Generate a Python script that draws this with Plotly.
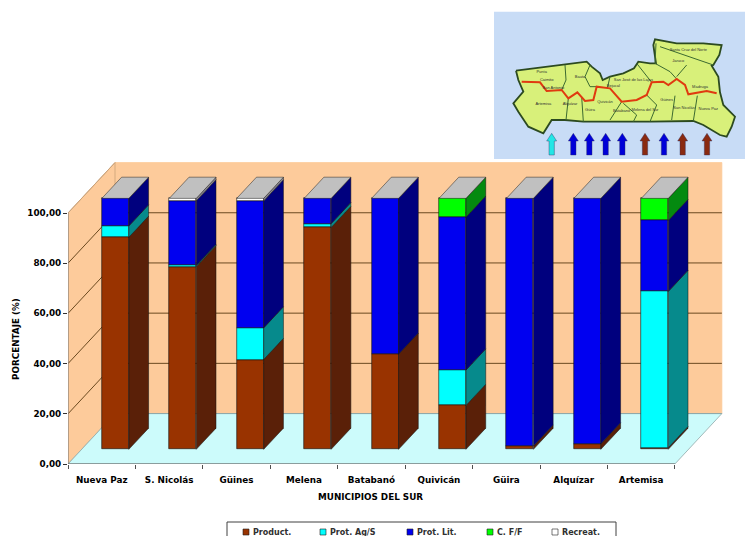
import plotly.graph_objects as go

# Land use per municipality, in percent of the total area
MUNICIPIOS = ["Nueva Paz", "S. Nicolás", "Güines", "Melena", "Batabanó",
              "Quivicán", "Güira", "Alquízar", "Artemisa"]
PRODUCT = [84.5, 72.8, 35.8, 88.4, 37.9, 17.5, 1.3, 2.2, 0.7]
PROT_AGS = [4.5, 0.5, 12.6, 1.5, 0, 14.1, 0, 0, 62.2]
PROT_LIT = [11.0, 25.7, 50.6, 10.1, 62.1, 60.9, 98.7, 97.8, 28.3]
C_FF = [0, 0, 0, 0, 0, 7.5, 0, 0, 8.8]
RECREAT = [0, 1.0, 1.0, 0, 0, 0, 0, 0, 0]
Y_TICKS = [0, 20, 40, 60, 80, 100]
Y_LABELS = ["0,00", "20,00", "40,00", "60,00", "80,00", "100,00"]

SERIES = [
    ("Product.", PRODUCT, "#993300", "#5a2008"),
    ("Prot. Ag/S", PROT_AGS, "#00ffff", "#068a8c"),
    ("Prot. Lit.", PROT_LIT, "#0000f0", "#00007e"),
    ("C. F/F", C_FF, "#00ff00", "#048a10"),
    ("Recreat.", RECREAT, "#ffffff", "#8a8a9a"),
]

# Oblique projection: a unit of depth shifts a point by these axis amounts
DEPTH_X = 0.697
DEPTH_Y = 20.1
BAR_FRONT = 0.29
BAR_BACK = 0.71
BAR_WIDTH = 0.40
FONT = "DejaVu Sans"

# Page geometry of the plot area, used to place items given in page pixels
PLOT_LEFT, PLOT_W, PLOT_H = 68, 677, 464


def page_x(px):
    return (px - PLOT_LEFT) / PLOT_W


def page_y(py):
    return (PLOT_H - py) / PLOT_H


def proj(x, v, d):
    return x + d * DEPTH_X, v + d * DEPTH_Y


def path(points):
    return "M " + " L ".join(f"{x:.4f} {y:.4f}" for x, y in points) + " Z"


n = len(MUNICIPIOS)
fig = go.Figure()
shapes = []


def add_plane(points, fill, edge):
    shapes.append(dict(type="path", path=path(points), xref="x", yref="y",
                       fillcolor=fill, line=dict(color=edge, width=0.8), layer="below"))


def add_rule(a, b, color, width=1):
    shapes.append(dict(type="line", xref="x", yref="y", x0=a[0], y0=a[1], x1=b[0], y1=b[1],
                       line=dict(color=color, width=width), layer="below"))


# Back wall, side wall and floor of the chart box
add_plane([proj(0, 0, 1), proj(n, 0, 1), proj(n, 100, 1), proj(0, 100, 1)], "#fdcb9b", "#fdcb9b")
add_plane([proj(0, 0, 0), proj(0, 0, 1), proj(0, 100, 1), proj(0, 100, 0)], "#fdcb9b", "#c9a27a")
add_plane([proj(0, 0, 0), proj(n, 0, 0), proj(n, 0, 1), proj(0, 0, 1)], "#ccfbfb", "#8fa8a8")
for t in Y_TICKS[1:-1]:
    add_rule(proj(0, t, 0), proj(0, t, 1), "#6b4a20")
    add_rule(proj(0, t, 1), proj(n, t, 1), "#6b4a20")
add_rule(proj(0, 100, 0), proj(0, 100, 1), "#c9a27a")
add_rule(proj(0, 0, 1), proj(n, 0, 1), "#8fa8a8")
add_rule((0, 0), (0, 100), "#808080")
add_rule((0, 0), (n, 0), "#606060")

# Front faces, stacked from an explicit running base
bottoms = [0.0] * n
bar_x = [proj(i + 0.5, 0, BAR_FRONT)[0] for i in range(n)]
base_0 = BAR_FRONT * DEPTH_Y
segments = []
for name, values, front, side in SERIES:
    fig.add_trace(go.Bar(
        x=bar_x, y=[v if v > 0 else None for v in values],
        base=[base_0 + b for b in bottoms], width=BAR_WIDTH, name=name, showlegend=False,
        marker=dict(color=front, line=dict(color="#101010", width=0.6)),
    ))
    segments.append((values, list(bottoms), side))
    bottoms = [b + v for b, v in zip(bottoms, values)]

# Side faces follow each stacked segment back into the box
for values, starts, side in segments:
    for i, (v, s) in enumerate(zip(values, starts)):
        if v <= 0:
            continue
        right = bar_x[i] + BAR_WIDTH / 2
        low, high = base_0 + s, base_0 + s + v
        d = BAR_BACK - BAR_FRONT
        pts = [(right, low), proj(right, low, d), proj(right, high, d), (right, high), (right, low)]
        fig.add_trace(go.Scatter(
            x=[p[0] for p in pts], y=[p[1] for p in pts], mode="lines", fill="toself",
            fillcolor=side, line=dict(color="#101010", width=0.5), showlegend=False,
            hoverinfo="skip", cliponaxis=False))

# Grey top caps
for i, total in enumerate(bottoms):
    left, right = bar_x[i] - BAR_WIDTH / 2, bar_x[i] + BAR_WIDTH / 2
    top = base_0 + total
    d = BAR_BACK - BAR_FRONT
    pts = [(left, top), (right, top), proj(right, top, d), proj(left, top, d), (left, top)]
    fig.add_trace(go.Scatter(
        x=[p[0] for p in pts], y=[p[1] for p in pts], mode="lines", fill="toself",
        fillcolor="#c0c0c0", line=dict(color="#202020", width=0.5), showlegend=False,
        hoverinfo="skip", cliponaxis=False))

# Locator map in its own small axes
MAP_BG_X = [12, 765, 765, 12, 12]
MAP_BG_Y = [20, 20, 462, 462, 20]
MAP_OUTLINE = [(78, 197), (130, 190), (180, 185), (230, 177), (290, 170), (305, 185), (330, 205),
               (338, 225), (360, 215), (400, 205), (432, 190), (445, 170), (480, 175), (498, 175),
               (490, 120), (495, 103), (560, 115), (640, 115), (695, 120), (688, 150), (670, 180),
               (665, 182), (685, 215), (690, 262), (700, 300), (735, 335), (725, 365), (710, 395),
               (690, 390), (640, 360), (610, 348), (480, 350), (360, 350), (280, 350), (225, 345),
               (185, 345), (160, 385), (115, 365), (85, 320), (70, 295), (100, 260), (85, 225),
               (78, 197)]
MAP_BORDERS = [
    [(225, 180), (228, 225), (215, 255)],
    [(300, 180), (285, 215), (300, 245), (320, 245)],
    [(235, 280), (228, 345)],
    [(275, 275), (280, 350)],
    [(360, 215), (352, 250)],
    [(395, 290), (360, 345)],
    [(400, 295), (440, 330), (430, 350)],
    [(470, 270), (500, 300), (480, 350)],
    [(440, 175), (485, 232)],
    [(498, 115), (495, 175), (540, 200), (560, 222)],
    [(510, 125), (580, 150), (670, 180)],
    [(590, 180), (560, 215)],
    [(555, 272), (545, 345)],
    [(622, 272), (610, 348)],
]
MAP_ROAD = [(95, 230), (150, 232), (170, 258), (215, 255), (235, 280), (262, 262), (285, 288),
            (310, 285), (320, 245), (360, 250), (395, 290), (440, 285), (470, 270), (485, 232),
            (520, 230), (535, 240), (560, 222), (585, 240), (595, 268), (650, 258), (680, 265)]
MAP_TOWNS = [("Santa Cruz del Norte", 595, 135), ("Jaruco", 565, 168), ("Madruga", 630, 245),
             ("Nueva Paz", 655, 312), ("San Nicolás", 582, 310), ("Güines", 530, 285),
             ("Melena del Sur", 465, 315), ("Batabanó", 395, 318), ("Quivicán", 345, 290),
             ("San José de las Lajas", 430, 225), ("Bejucal", 370, 243), ("Güira", 300, 315),
             ("Alquízar", 240, 298), ("San Antonio", 190, 250), ("Artemisa", 160, 297),
             ("Bauta", 270, 215), ("Caimito", 170, 225), ("Punta", 155, 200)]
ARROW_X = [185, 250, 298, 347, 397, 465, 522, 578, 651]
ARROW_COLORS = ["#22e6e6", "#0000d8", "#0000d8", "#0000d8", "#0000d8",
                "#8a2a10", "#0000d8", "#8a2a10", "#8a2a10"]


def map_trace(points, **kw):
    return go.Scatter(x=[p[0] for p in points], y=[p[1] for p in points], xaxis="x2", yaxis="y2",
                      showlegend=False, hoverinfo="skip", **kw)


fig.add_trace(go.Scatter(x=MAP_BG_X, y=MAP_BG_Y, xaxis="x2", yaxis="y2", mode="lines", fill="toself",
                         fillcolor="#c8dcf6", line=dict(width=0), showlegend=False, hoverinfo="skip"))
fig.add_trace(map_trace(MAP_OUTLINE, mode="lines", fill="toself", fillcolor="#d8f07a",
                        line=dict(color="#2c4a20", width=1.8)))
for border in MAP_BORDERS:
    fig.add_trace(map_trace(border, mode="lines", line=dict(color="#3c6a30", width=1)))
fig.add_trace(map_trace(MAP_ROAD, mode="lines", line=dict(color="#e03a10", width=2)))
fig.add_trace(go.Scatter(x=[t[1] for t in MAP_TOWNS], y=[t[2] for t in MAP_TOWNS], text=[t[0] for t in MAP_TOWNS],
                         xaxis="x2", yaxis="y2", mode="text", textfont=dict(size=4, color="#303030", family="Liberation Sans"),
                         showlegend=False, hoverinfo="skip"))
for ax, color in zip(ARROW_X, ARROW_COLORS):
    pts = [(ax - 8, 450), (ax + 8, 450), (ax + 8, 408), (ax + 15, 408), (ax, 385),
           (ax - 15, 408), (ax - 8, 408), (ax - 8, 450)]
    fig.add_trace(map_trace(pts, mode="lines", fill="toself", fillcolor=color,
                            line=dict(color="#303060", width=0.4)))

# Legend box along the bottom edge of the page
LEGEND_SWATCH_PX = [243, 320, 407, 487, 552]
LEGEND_Y_PX = 532
legend_shapes = [dict(type="rect", xref="paper", yref="paper", x0=page_x(227), x1=page_x(616),
                      y0=page_y(522), y1=page_y(542), fillcolor="#ffffff",
                      line=dict(color="#404040", width=1))]
legend_notes = []
for (name, _, front, _), sx in zip(SERIES, LEGEND_SWATCH_PX):
    legend_shapes.append(dict(type="rect", xref="paper", yref="paper", x0=page_x(sx), x1=page_x(sx + 6),
                              y0=page_y(LEGEND_Y_PX + 3), y1=page_y(LEGEND_Y_PX - 3), fillcolor=front,
                              line=dict(color="#202020", width=0.6)))
    legend_notes.append(dict(text=name, xref="paper", yref="paper", x=page_x(sx + 8), y=page_y(LEGEND_Y_PX),
                             xanchor="left", yanchor="middle", showarrow=False, xshift=0,
                             font=dict(family=FONT, size=8, color="#303030", weight="bold")))

label_font = dict(family=FONT, size=8.8, color="#000000", weight="bold")
fig.update_layout(
    width=745, height=536, barmode="overlay", bargap=0, showlegend=False,
    margin=dict(l=PLOT_LEFT, r=0, t=0, b=72, pad=0, autoexpand=False),
    paper_bgcolor="#ffffff", plot_bgcolor="rgba(0,0,0,0)",
    shapes=shapes + legend_shapes,
    xaxis=dict(range=[0, 10.04], domain=[0, 1], tickvals=[i + 0.5 for i in range(n)], ticktext=MUNICIPIOS,
               ticks="", ticklabelstandoff=9, showgrid=False, zeroline=False, showline=False, tickangle=0,
               tickfont=label_font,
               minor=dict(tickvals=list(range(n + 1)), ticks="outside", ticklen=4, tickcolor="#505050", showgrid=False)),
    yaxis=dict(range=[0, 184.86], domain=[0, 1], tickvals=Y_TICKS, ticktext=Y_LABELS, ticks="outside", ticklen=4,
               tickcolor="#303030", showgrid=False, zeroline=False, showline=False, tickfont=label_font),
    xaxis2=dict(range=[0, 765], domain=[page_x(490), 1], anchor="y2", visible=False, fixedrange=True),
    yaxis2=dict(range=[495, 0], domain=[page_y(170), page_y(5)], anchor="x2", visible=False, fixedrange=True),
    annotations=[
        dict(text="PORCENTAJE (%)", xref="paper", yref="paper", x=page_x(16), y=page_y(339),
             xanchor="center", yanchor="middle", textangle=-90, showarrow=False, font=label_font),
        dict(text="MUNICIPIOS DEL SUR", xref="paper", yref="paper", x=page_x(370), y=page_y(497),
             xanchor="center", yanchor="middle", showarrow=False, font=label_font),
    ] + legend_notes,
)

fig.write_html("out.html")
